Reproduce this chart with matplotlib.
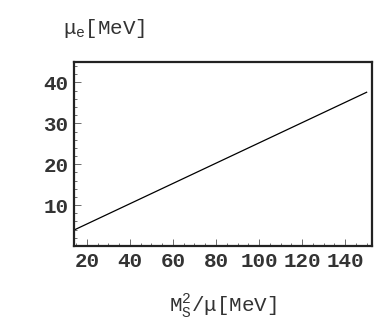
import matplotlib
matplotlib.use("Agg")
import matplotlib.pyplot as plt
from matplotlib.ticker import MultipleLocator

# data
ms2_over_mu = [14, 150]
mu_e = [3.9, 37.6]
x_ticks = [20, 40, 60, 80, 100, 120, 140]
y_ticks = [10, 20, 30, 40]

plt.rcParams["mathtext.fontset"] = "custom"
plt.rcParams["mathtext.rm"] = "Liberation Mono"
plt.rcParams["mathtext.it"] = "Liberation Mono"

fig = plt.figure(figsize=(3.82, 3.28), dpi=100)
ax = fig.add_axes([74 / 382, 82 / 328, 298 / 382, 184 / 328])

ax.plot(ms2_over_mu, mu_e, color="black", lw=0.9)
ax.set_xlim(14, 152.5)
ax.set_ylim(0, 45)

ax.set_xticks(x_ticks)
ax.set_yticks(y_ticks)
ax.xaxis.set_minor_locator(MultipleLocator(5))
ax.yaxis.set_minor_locator(MultipleLocator(2))
ax.tick_params(which="both", direction="in", top=False, right=False,
               width=0.6, color="#555555")
ax.tick_params(which="major", length=5, pad=4)
ax.tick_params(which="minor", length=2.5)
for lab in ax.get_xticklabels() + ax.get_yticklabels():
    lab.set_fontfamily("Liberation Mono")
    lab.set_fontweight("bold")
    lab.set_fontsize(15)
    lab.set_color("#333333")

for sp in ax.spines.values():
    sp.set_linewidth(1.6)
    sp.set_color("#222222")

fig.text(63 / 382, 1 - 28 / 328, r"$\mu_{\mathrm{e}}$[MeV]",
         family="Liberation Mono", fontsize=15, color="#333333",
         ha="left", va="center")
fig.text(223 / 382, 1 - 307 / 328, r"$\mathrm{M}_{\mathrm{S}}^{2}/\mu$[MeV]",
         family="Liberation Mono", fontsize=15, color="#333333",
         ha="center", va="center")

fig.savefig("out.png", dpi=100)
